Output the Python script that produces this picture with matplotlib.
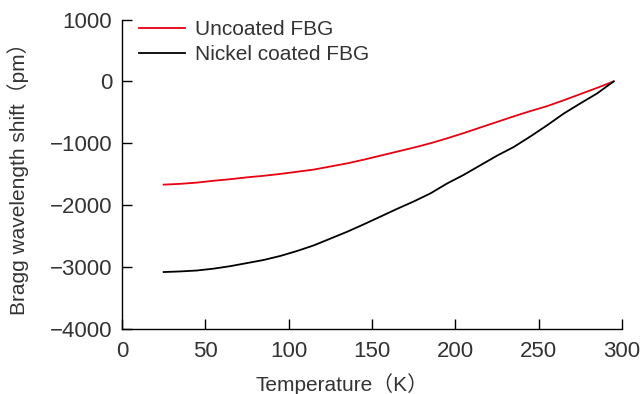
import matplotlib
matplotlib.use("Agg")
import matplotlib.pyplot as plt

# Data
temp_k = [25, 35, 45, 55, 65, 75, 85, 95, 105, 115, 125, 135, 145, 155,
          165, 175, 185, 195, 205, 215, 225, 235, 245, 255, 265, 275, 285, 295]

uncoated = [-1668, -1655, -1635, -1605, -1580, -1550, -1525, -1495, -1460,
            -1425, -1375, -1325, -1265, -1200, -1135, -1070, -1000, -920,
            -835, -745, -655, -565, -480, -400, -305, -205, -105, 0]

nickel = [-3080, -3070, -3055, -3025, -2985, -2935, -2885, -2820, -2740,
          -2650, -2540, -2430, -2310, -2185, -2060, -1940, -1810, -1650,
          -1510, -1355, -1200, -1060, -890, -710, -520, -355, -195, 0]

x_ticks = [0, 50, 100, 150, 200, 250, 300]
y_ticks = [-4000, -3000, -2000, -1000, 0, 1000]

# Latin text in an Arial-like face, full-width brackets from the CJK font
plt.rcParams["font.family"] = ["Liberation Sans", "Noto Sans CJK JP"]
text_color = "#333333"

fig = plt.figure(figsize=(6.41, 3.94), dpi=100)
ax = fig.add_axes([0.1903, 0.165, 0.7801, 0.7855])

ax.plot(temp_k, uncoated, color="#e60012", lw=1.3, label="Uncoated FBG")
ax.plot(temp_k, nickel, color="black", lw=1.3, label="Nickel coated FBG")

ax.set_xlim(0, 300)
ax.set_ylim(-4000, 1000)
ax.set_xticks(x_ticks)
ax.set_yticks(y_ticks)

for side in ["top", "right"]:
    ax.spines[side].set_visible(False)
for side in ["left", "bottom"]:
    ax.spines[side].set_linewidth(1.0)

ax.tick_params(direction="in", length=7, width=1.0, labelsize=16,
               labelcolor=text_color)
ax.tick_params(axis="x", pad=9)
ax.tick_params(axis="y", pad=7)

ax.set_xlabel("Temperature（K）", fontsize=15, color=text_color)
ax.set_ylabel("Bragg wavelength shift（pm）", fontsize=15, color=text_color)
ax.xaxis.set_label_coords(0.44, -0.142)
ax.yaxis.set_label_coords(-0.185, 0.5)

leg = ax.legend(loc="upper left", frameon=False, fontsize=15,
                bbox_to_anchor=(-0.008, 1.065), handlelength=2.2,
                handletextpad=0.5, labelspacing=0.3, borderaxespad=0.6)
for t in leg.get_texts():
    t.set_color(text_color)

fig.savefig("out.png", dpi=100)
